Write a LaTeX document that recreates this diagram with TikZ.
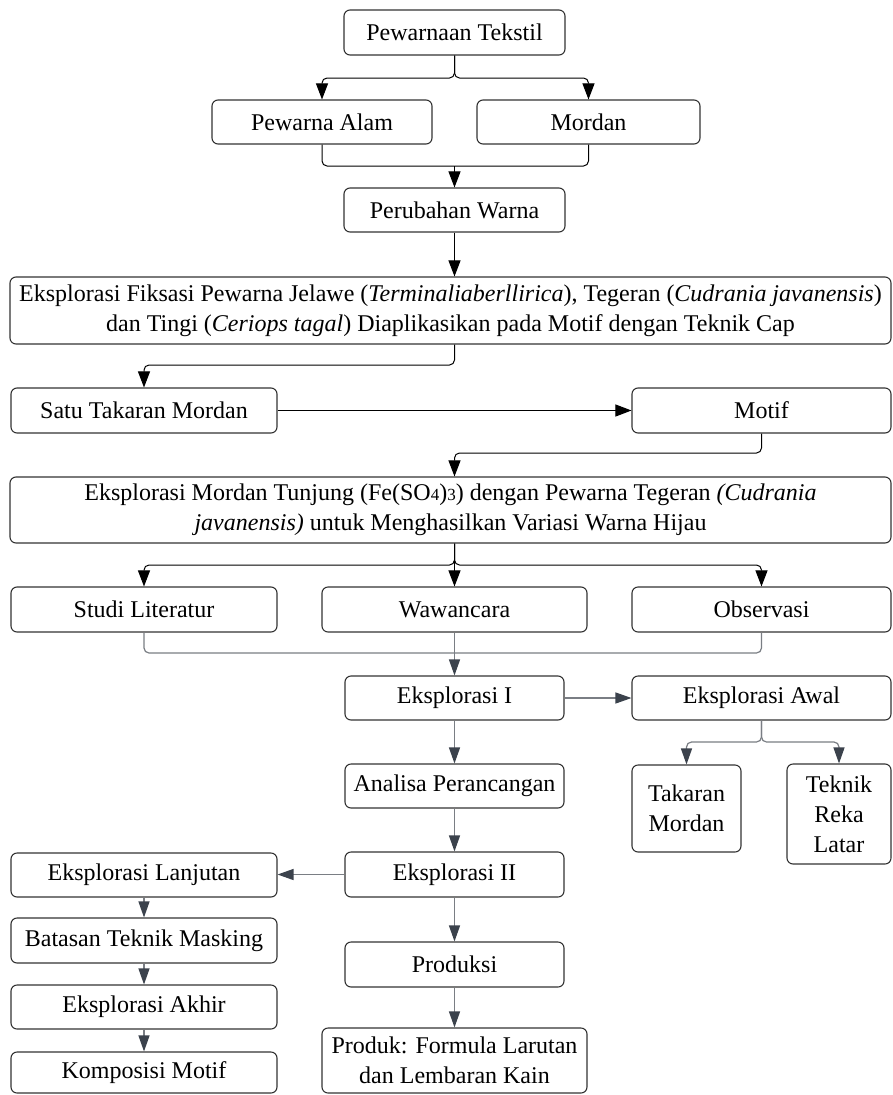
\documentclass[tikz,border=0pt]{standalone}
\usepackage{fontspec}
\setmainfont{Liberation Serif}
\usetikzlibrary{arrows.meta}
\definecolor{boxc}{HTML}{333333}
\definecolor{linec}{HTML}{7A7E84}
\definecolor{headc}{HTML}{3B424C}
\newcommand{\smd}[1]{{\fontsize{17}{17}\selectfont #1}}
\tikzset{
 box/.style={draw=boxc, line width=1.1pt, rounded corners=6pt, align=center, inner sep=0pt, text=black, font=\fontsize{24}{30}\selectfont},
 blk/.style={draw=black, line width=1pt, rounded corners=5pt, -{Triangle[length=16pt,width=12pt]}},
 blkline/.style={draw=black, line width=1pt, rounded corners=5pt},
 gry/.style={draw=linec, line width=1.2pt, rounded corners=5pt, -{Triangle[length=16pt,width=11pt,color=headc]}},
 gryline/.style={draw=linec, line width=1.2pt, rounded corners=5pt},
}
\begin{document}
\begin{tikzpicture}[x=1pt,y=-1pt]
\useasboundingbox (0,0) rectangle (893,1095);
\fill[white] (0,0) rectangle (893,1095);
% nodes
\node[box, minimum width=221pt, minimum height=45pt] (t1) at (454.5,32.5) {Pewarnaan Tekstil};
\node[box, minimum width=220pt, minimum height=44pt] (pa) at (322,122) {Pewarna Alam};
\node[box, minimum width=223pt, minimum height=44pt] (mo) at (588.5,122) {Mordan};
\node[box, minimum width=221pt, minimum height=44pt] (pw) at (454.5,210) {Perubahan Warna};
\node[box, minimum width=881pt, minimum height=67pt] (ef) at (450.5,310.5) {Eksplorasi Fiksasi Pewarna Jelawe (\textit{Terminaliaberllirica}), Tegeran (\textit{Cudrania javanensis})\\dan Tingi (\textit{Ceriops tagal}) Diaplikasikan pada Motif dengan Teknik Cap};
\node[box, minimum width=266pt, minimum height=45pt] (st) at (144,410.5) {Satu Takaran Mordan};
\node[box, minimum width=259pt, minimum height=45pt] (mf) at (761.5,410.5) {Motif};
\node[box, minimum width=881pt, minimum height=66pt] (em) at (450.5,510) {Eksplorasi Mordan Tunjung (Fe(SO\smd{4})\smd{3}) dengan Pewarna Tegeran \textit{(Cudrania}\\\textit{javanensis)} untuk Menghasilkan Variasi Warna Hijau};
\node[box, minimum width=266pt, minimum height=45pt] (sl) at (144,609.5) {Studi Literatur};
\node[box, minimum width=265pt, minimum height=45pt] (ww) at (454.5,609.5) {Wawancara};
\node[box, minimum width=259pt, minimum height=45pt] (ob) at (761.5,609.5) {Observasi};
\node[box, minimum width=219pt, minimum height=44pt] (e1) at (454.5,698) {Eksplorasi I};
\node[box, minimum width=259pt, minimum height=44pt] (ea) at (761.5,698) {Eksplorasi Awal};
\node[box, minimum width=219pt, minimum height=44pt] (ap) at (454.5,786) {Analisa Perancangan};
\node[box, minimum width=109pt, minimum height=87pt] (tm) at (686.5,808.5) {Takaran\\Mordan};
\node[box, minimum width=104pt, minimum height=100pt] (tr) at (839,814) {Teknik\\Reka\\Latar};
\node[box, minimum width=219pt, minimum height=45pt] (e2) at (454.5,874.5) {Eksplorasi II};
\node[box, minimum width=266pt, minimum height=44pt] (el) at (144,875) {Eksplorasi Lanjutan};
\node[box, minimum width=266pt, minimum height=45pt] (bt) at (144,940.5) {Batasan Teknik Masking};
\node[box, minimum width=266pt, minimum height=44pt] (ek) at (144,1007) {Eksplorasi Akhir};
\node[box, minimum width=266pt, minimum height=41pt] (km) at (144,1072.5) {Komposisi Motif};
\node[box, minimum width=219pt, minimum height=45pt] (pr) at (454.5,964.5) {Produksi};
\node[box, minimum width=265pt, minimum height=65pt] (pk) at (454.5,1060.5) {Produk: Formula Larutan\\dan Lembaran Kain};
% junctions
\coordinate (j1) at (454.5,78);
\coordinate (j2) at (454.5,166);
\coordinate (c1) at (454.5,365);
\coordinate (c2) at (454.5,453);
\coordinate (c3) at (454.5,565);
\coordinate (c4) at (454.5,653);
\coordinate (c5) at (761.5,742);
% connectors
\draw[blk] (t1.south) -- (j1) -| (pa.north);
\draw[blk] (t1.south) -- (j1) -| (mo.north);
\draw[blkline] (pa.south) |- (j2);
\draw[blkline] (mo.south) |- (j2);
\draw[blk] (j2) -- (pw.north);
\draw[blk] (pw.south) -- (pw.south |- ef.north);
\draw[blk] (pw.south |- ef.south) -- (c1) -| (st.north);
\draw[blk] (st.east) -- (mf.west);
\draw[blk] (mf.south) |- (c2) -- (pw.south |- em.north);
\draw[blk] (pw.south |- em.south) -- (c3) -| (sl.north);
\draw[blk] (pw.south |- em.south) -- (c3) -| (ob.north);
\draw[blk] (pw.south |- em.south) -- (ww.north);
\draw[gryline] (sl.south) |- (c4);
\draw[gryline] (ob.south) |- (c4);
\draw[gry] (ww.south) -- (e1.north);
\draw[gry] (e1.east) -- (ea.west);
\draw[gry] (ea.south) -- (c5) -| (tm.north);
\draw[gry] (ea.south) -- (c5) -| (tr.north);
\draw[gry] (e1.south) -- (ap.north);
\draw[gry] (ap.south) -- (e2.north);
\draw[gry] (e2.west) -- (e2.west -| el.east);
\draw[gry] (e2.south) -- (pr.north);
\draw[gry] (pr.south) -- (pk.north);
\draw[gry] (el.south) -- (bt.north);
\draw[gry] (bt.south) -- (ek.north);
\draw[gry] (ek.south) -- (km.north);
\end{tikzpicture}
\end{document}
